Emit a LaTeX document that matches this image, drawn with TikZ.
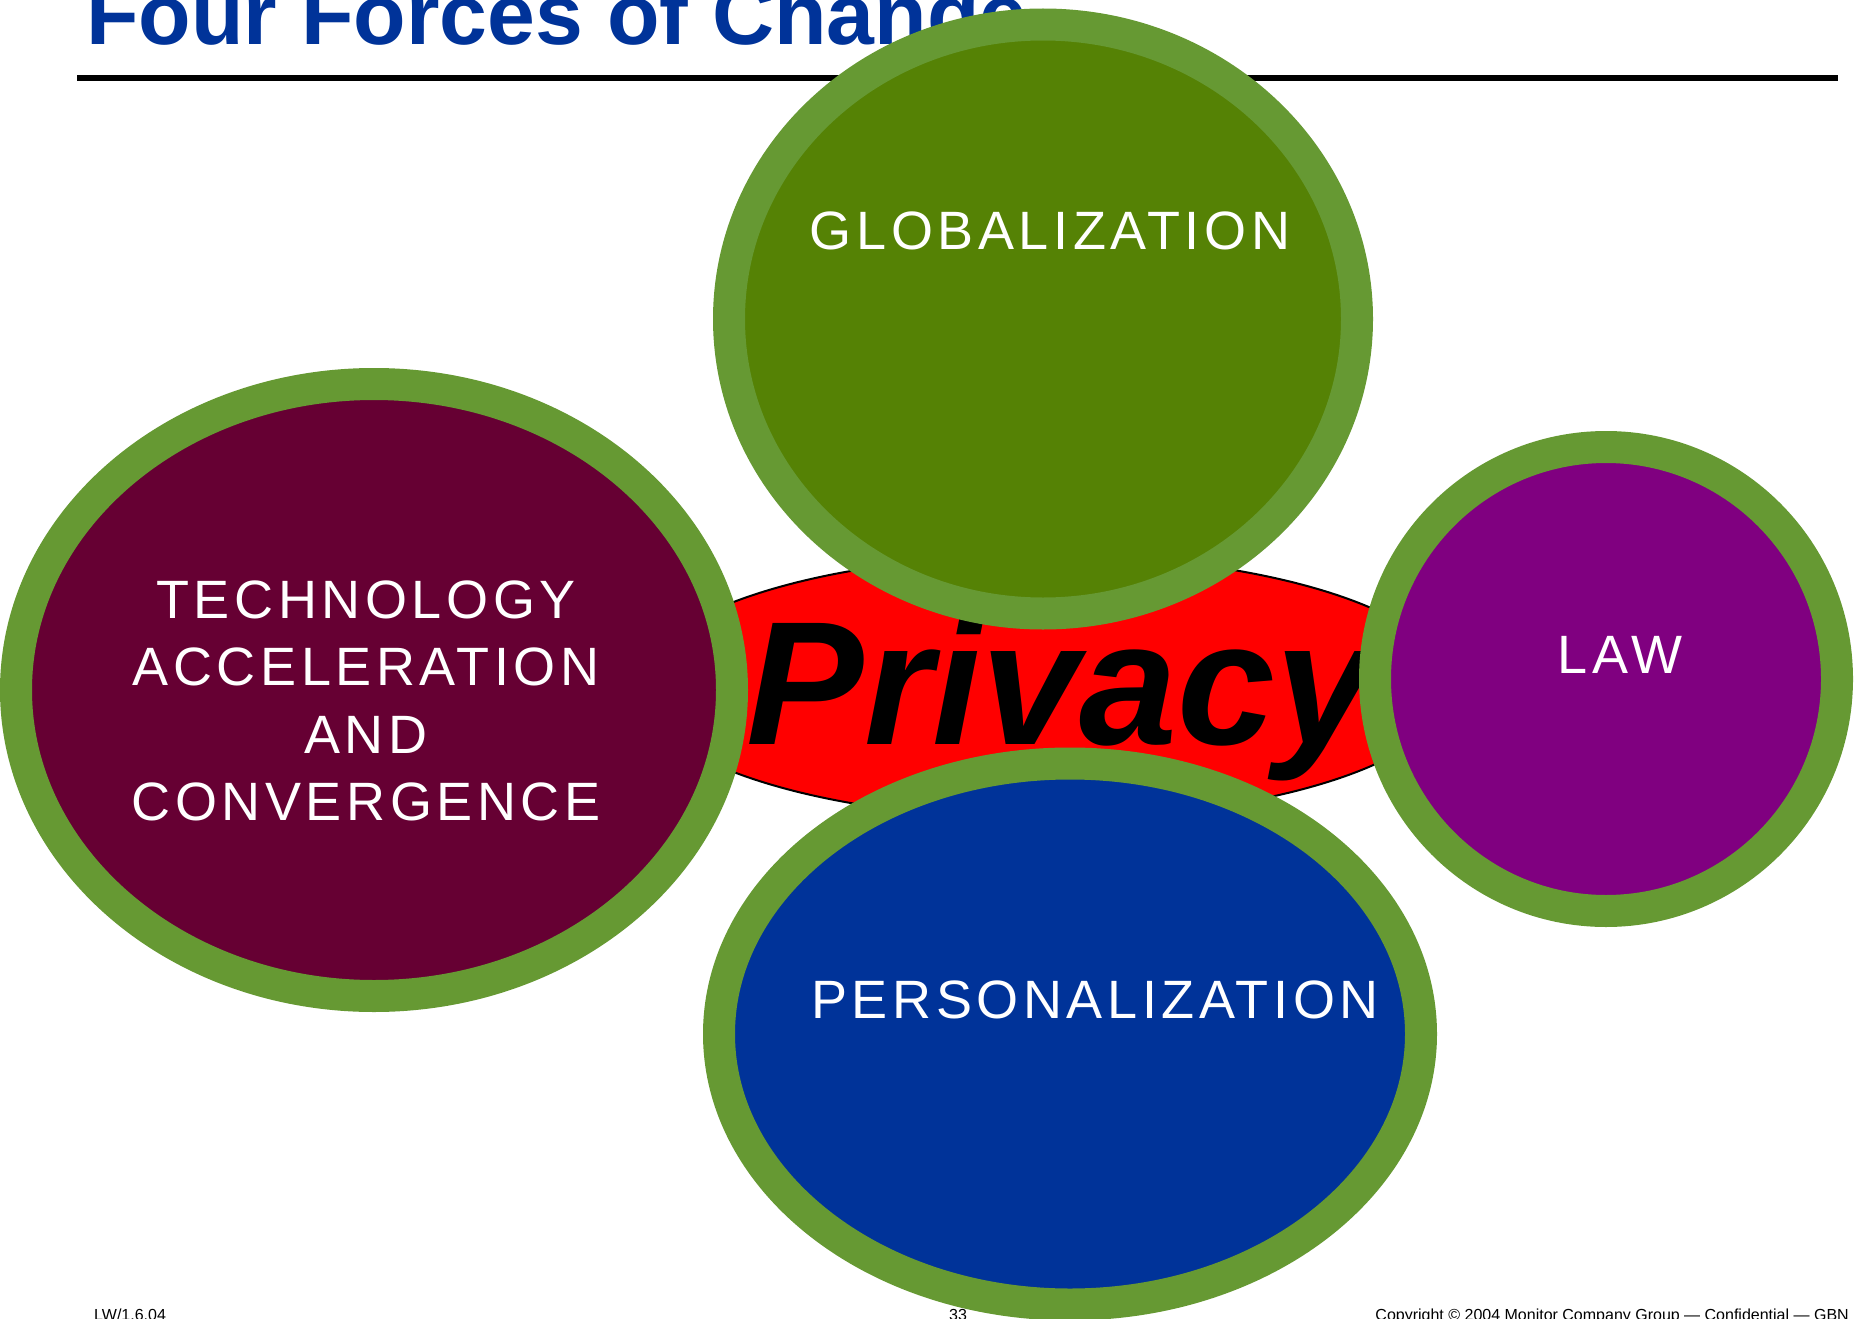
\documentclass[tikz,border=0pt]{standalone}
\usepackage{fontspec}
\setmainfont{Liberation Sans}
\usetikzlibrary{shapes.geometric}

\definecolor{titleblue}{RGB}{0,51,153}
\definecolor{rimgreen}{RGB}{102,153,51}
\definecolor{globgreen}{RGB}{85,130,5}
\definecolor{techred}{RGB}{102,0,51}
\definecolor{lawpurple}{RGB}{128,0,128}
\definecolor{persoblue}{RGB}{0,51,153}

\begin{document}
\begin{tikzpicture}[x=1pt, y=-1pt,
    force/.style={ellipse, draw=rimgreen, line width=32pt, inner sep=0pt},
    forcelabel/.style={text=white, inner sep=0pt, align=center, font=\fontsize{54}{67.3}\selectfont\addfontfeature{LetterSpace=8.5}},
    footer/.style={inner sep=0pt, font=\fontsize{16}{16}\selectfont}
]
\useasboundingbox (0,0) rectangle (1861,1319);

% Titre
\node[anchor=base west, inner sep=0pt, text=titleblue, font=\fontsize{86}{86}\selectfont\bfseries] (title) at (86,45) {Four Forces of Change};
\draw[line width=6pt] (77,78) -- (1838,78);

% Privacy
\node[ellipse, draw=black, line width=2pt, fill=red, inner sep=0pt, minimum width=814pt, minimum height=264pt] (privacy) at (1045,687) {};
\node[anchor=base, inner sep=0pt, font=\fontsize{176}{176}\selectfont\bfseries\itshape] (privacytxt) at (1060,744) {Privacy};

% Forces
\node[force, fill=globgreen, minimum width=628pt, minimum height=589pt] (glob) at (1043,319) {};
\node[force, fill=techred, minimum width=716pt, minimum height=612pt] (tech) at (374,690) {};
\node[force, fill=persoblue, minimum width=702pt, minimum height=541pt] (perso) at (1070,1034) {};
\node[force, fill=lawpurple, minimum width=462pt, minimum height=464pt] (law) at (1606,679) {};

% Textes
\node[forcelabel, anchor=base] (globtxt) at (1050,249) {GLOBALIZATION};
\node[forcelabel] (techtxt) at (366,701) {TECHNOLOGY\\ACCELERATION\\AND\\CONVERGENCE};
\node[forcelabel, anchor=base] (lawtxt) at (1620,673) {LAW};
\node[forcelabel, anchor=base] (persotxt) at (1095,1018) {PERSONALIZATION};

% Pied de page
\node[footer, anchor=base west] (date) at (94,1320) {LW/1.6.04};
\node[footer, anchor=base] (page) at (958,1320) {33};
\node[footer, anchor=base east] (copy) at (1849,1320) {Copyright © 2004 Monitor Company Group — Confidential — GBN};

\end{tikzpicture}
\end{document}
